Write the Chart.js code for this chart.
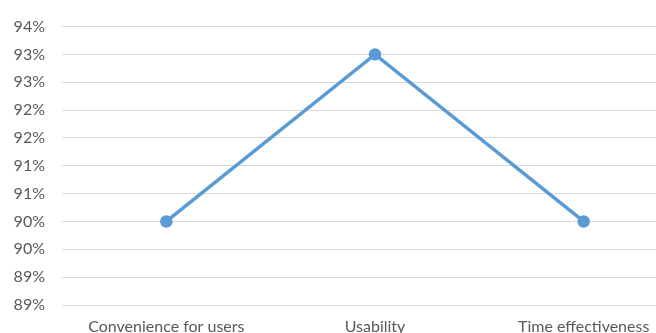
<!DOCTYPE html>
<html>
<head>
<meta charset="utf-8">
<script src="https://cdn.jsdelivr.net/npm/chart.js@4"></script>
<style>
  html, body { margin: 0; padding: 0; background: #fff; overflow: hidden; }
  #wrap { width: 696px; height: 333px; position: relative; }
</style>
</head>
<body>
<div id="wrap"><canvas id="c"></canvas></div>
<script>
// Survey ratings per criterion
const categories = ["Convenience for users", "Usability", "Time effectiveness"];
const ratings = [0.905, 0.935, 0.905];
// Axis labels as shown, bottom to top (0.5% steps, whole-percent format)
const yTickLabels = ["89%", "89%", "90%", "90%", "91%", "91%", "92%", "92%", "93%", "93%", "94%"];

const FONT = { family: "Lato, 'Open Sans', sans-serif", size: 16 };

new Chart(document.getElementById("c"), {
  type: "line",
  data: {
    labels: categories,
    datasets: [{
      data: ratings,
      borderColor: "#5B9BD5",
      backgroundColor: "#5B9BD5",
      borderWidth: 3.5,
      pointRadius: 4.5,
      pointHoverRadius: 4.5,
      tension: 0,
      fill: false
    }]
  },
  options: {
    responsive: true,
    maintainAspectRatio: false,
    animation: false,
    layout: { padding: { top: 25, left: 0, right: 0, bottom: 0 } },
    plugins: { legend: { display: false }, tooltip: { enabled: false } },
    scales: {
      x: {
        offset: true,
        grid: { display: false, drawTicks: false },
        border: { display: false },
        ticks: { color: "#595959", font: FONT, padding: 12, maxRotation: 0, autoSkip: false },
        afterFit(s) { s.height = 28; }
      },
      y: {
        min: 0.89,
        max: 0.94,
        grid: { color: "#D9D9D9", lineWidth: 1, drawTicks: false },
        border: { display: false },
        ticks: {
          stepSize: 0.005,
          color: "#595959",
          font: FONT,
          padding: 17,
          callback: (v, i) => yTickLabels[i]
        },
        afterFit(s) { s.width = 62; }
      }
    }
  }
});
</script>
</body>
</html>
